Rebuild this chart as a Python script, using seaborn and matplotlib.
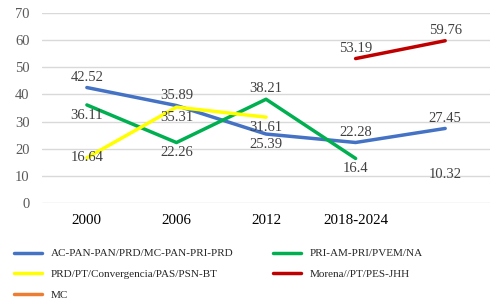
import seaborn as sns
import matplotlib.pyplot as plt
import pandas as pd
import numpy as np

# Datos
periodos = ["2000", "2006", "2012", "2018-2024", " "]
series = [
    "AC-PAN-PAN/PRD/MC-PAN-PRI-PRD",
    "PRI-AM-PRI/PVEM/NA",
    "PRD/PT/Convergencia/PAS/PSN-BT",
    "Morena//PT/PES-JHH",
    "MC",
]
azul = [42.52, 35.89, 25.39, 22.28, 27.45]
verde = [36.11, 22.26, 38.21, 16.4, np.nan]
amarillo = [16.64, 35.31, 31.61, np.nan, np.nan]
rojo = [np.nan, np.nan, np.nan, 53.19, 59.76]
naranja = [np.nan, np.nan, np.nan, np.nan, 10.32]

colores = ["#4472C4", "#00B050", "#FFFF00", "#C00000", "#ED7D31"]
# posicion de la etiqueta: 1 arriba, -1 abajo, 0 centrada
pos_azul = [1, 1, -1, 1, 1]
pos_verde = [-1, -1, 1, -1, 0]
pos_amarillo = [0, -1, -1, 0, 0]
pos_rojo = [0, 0, 0, 1, 1]
pos_naranja = [0, 0, 0, 0, 0]

valores = [azul, verde, amarillo, rojo, naranja]
posiciones = [pos_azul, pos_verde, pos_amarillo, pos_rojo, pos_naranja]

filas = []
for s, vals in zip(series, valores):
    for p, v in zip(periodos, vals):
        if not np.isnan(v):
            filas.append({"Periodo": p, "Valor": v, "Serie": s})
df = pd.DataFrame(filas)

sns.set_style("white")
plt.rcParams["font.family"] = ["Liberation Serif", "DejaVu Serif"]

fig = plt.figure(figsize=(5.01, 3.08), dpi=100)
ax = fig.add_axes([0.084, 0.341, 0.894, 0.617])

sns.lineplot(
    data=df, x="Periodo", y="Valor", hue="Serie",
    hue_order=series, palette=colores, linewidth=2.5, ax=ax, sort=False
)

# Etiquetas de datos
idx = {p: i for i, p in enumerate(periodos)}
for s, vals, pos in zip(series, valores, posiciones):
    for p, v, d in zip(periodos, vals, pos):
        if np.isnan(v):
            continue
        ax.annotate(f"{v:g}", (idx[p], v), xytext=(0, 7.5 * d),
                    textcoords="offset points", ha="center", va="center",
                    fontsize=10.5, color="#404040")

ax.set_xlim(-0.5, 4.5)
ax.set_ylim(0, 70)
ax.set_yticks(range(0, 71, 10))
ax.set_xlabel("")
ax.set_ylabel("")
ax.grid(axis="y", color="#D9D9D9", linewidth=1)
ax.set_axisbelow(True)
for sp in ax.spines.values():
    sp.set_visible(False)
ax.tick_params(axis="y", colors="#595959", labelsize=10.5, length=0, pad=9)
ax.tick_params(axis="x", colors="black", labelsize=10.8, length=0, pad=8)

# Leyenda
handles, labels = ax.get_legend_handles_labels()
ax.get_legend().remove()
for h in handles:
    h.set_linewidth(2.5)
orden = [0, 2, 4, 1, 3]
fig.legend([handles[i] for i in orden], [labels[i] for i in orden],
           loc="lower left", bbox_to_anchor=(0.012, 0.0), ncol=2,
           frameon=False, fontsize=8, handlelength=2.5, handletextpad=0.8,
           columnspacing=3.6, labelspacing=1.0, borderaxespad=0.3)

plt.savefig("out.png", dpi=100)
